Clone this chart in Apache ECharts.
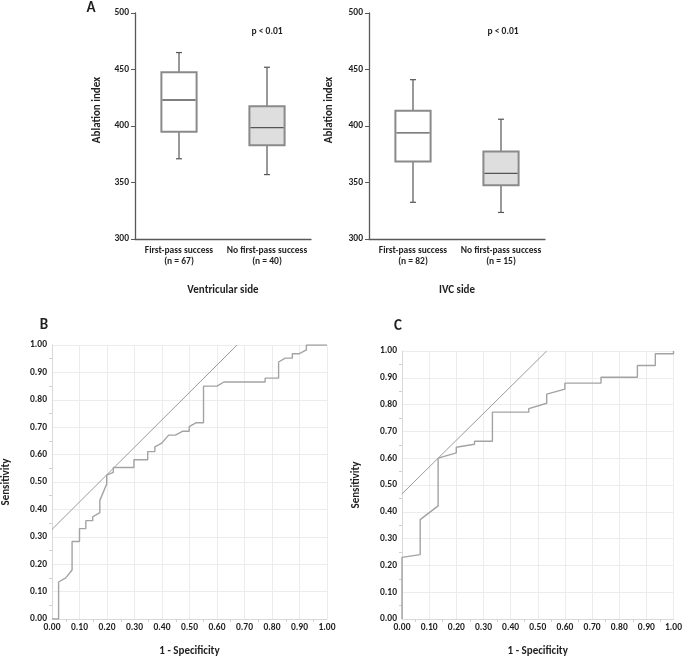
<!DOCTYPE html>
<html>
<head>
<meta charset="utf-8">
<script src="https://cdn.jsdelivr.net/npm/echarts@6/dist/echarts.min.js"></script>
<style>
html,body{margin:0;padding:0;background:#fff;}
#chart{width:685px;height:658px;}
</style>
</head>
<body>
<div id="chart"></div>
<script>
// ---- Data ----
const ventricularCategories = ['First-pass success\n(n = 67)', 'No first-pass success\n(n = 40)'];
const ivcCategories = ['First-pass success\n(n = 82)', 'No first-pass success\n(n = 15)'];
// [min, Q1, median, Q3, max]
const ventricularStats = [[371, 395, 423, 447.5, 465], [357, 383, 398.5, 417.5, 452]];
const ivcStats = [[332.5, 368.5, 394, 413.5, 441], [323.5, 347.5, 358, 377.5, 406]];
const boxYTicks = {min: 300, max: 500, interval: 50};

const rocB = [[0,0],[0.024,0],[0.024,0.135],[0.05,0.15],[0.073,0.179],[0.073,0.283],[0.1,0.283],[0.1,0.33],
  [0.123,0.33],[0.123,0.359],[0.148,0.359],[0.148,0.373],[0.174,0.388],[0.174,0.433],[0.199,0.493],[0.199,0.525],
  [0.223,0.535],[0.223,0.553],[0.298,0.553],[0.298,0.581],[0.348,0.581],[0.348,0.611],[0.374,0.611],[0.374,0.628],
  [0.399,0.642],[0.424,0.671],[0.449,0.671],[0.474,0.685],[0.499,0.685],[0.499,0.702],[0.523,0.716],[0.551,0.716],
  [0.551,0.85],[0.6,0.85],[0.625,0.865],[0.775,0.865],[0.775,0.879],[0.824,0.879],[0.824,0.938],[0.848,0.952],
  [0.874,0.952],[0.874,0.968],[0.898,0.968],[0.925,0.982],[0.925,1.0],[1,1]];
const rocBTangent = [[0, 0.327], [0.673, 1]];

const rocC = [[0,0],[0,0.23],[0.067,0.24],[0.067,0.371],[0.133,0.422],[0.133,0.6],[0.2,0.62],[0.2,0.641],
  [0.267,0.652],[0.267,0.663],[0.333,0.663],[0.333,0.772],[0.467,0.772],[0.467,0.785],[0.533,0.805],[0.533,0.839],
  [0.6,0.858],[0.6,0.88],[0.733,0.88],[0.733,0.902],[0.867,0.902],[0.867,0.946],[0.933,0.946],[0.933,0.99],
  [1,0.99],[1,1]];
const rocCTangent = [[0, 0.467], [0.533, 1]];

// ---- Helpers ----
const FONT = 'Carlito, Lato, sans-serif';
const FW = 900;
const TXT = '#1f1f1f';
const boxFills = ['#ffffff', '#dedede'];

function boxData(stats) {
  return stats.map((s, i) => [i].concat(s));
}

function renderBox(params, api) {
  const c = api.value(0);
  const pMin = api.coord([c, api.value(1)]);
  const pQ1 = api.coord([c, api.value(2)]);
  const pMed = api.coord([c, api.value(3)]);
  const pQ3 = api.coord([c, api.value(4)]);
  const pMax = api.coord([c, api.value(5)]);
  const band = api.size([1, 0])[0];
  const bw = band * 0.4;
  const cap = 3;
  const x = pMed[0];
  const wStyle = {stroke: '#555555', lineWidth: 1.2};
  return {
    type: 'group',
    children: [
      {type: 'line', shape: {x1: x, y1: pMax[1], x2: x, y2: pQ3[1]}, style: wStyle},
      {type: 'line', shape: {x1: x, y1: pMin[1], x2: x, y2: pQ1[1]}, style: wStyle},
      {type: 'line', shape: {x1: x - cap, y1: pMax[1], x2: x + cap, y2: pMax[1]}, style: wStyle},
      {type: 'line', shape: {x1: x - cap, y1: pMin[1], x2: x + cap, y2: pMin[1]}, style: wStyle},
      {type: 'rect', shape: {x: x - bw / 2, y: pQ3[1], width: bw, height: pQ1[1] - pQ3[1]},
        style: {fill: boxFills[params.dataIndex], stroke: '#8a8a8a', lineWidth: 2}},
      {type: 'line', shape: {x1: x - bw / 2 + 1, y1: pMed[1], x2: x + bw / 2 - 1, y2: pMed[1]},
        style: {stroke: '#555555', lineWidth: 1.3}}
    ]
  };
}

function boxXAxis(idx, cats, name) {
  return {
    type: 'category', gridIndex: idx, data: cats,
    axisLine: {lineStyle: {color: '#595959', width: 1.3}},
    axisTick: {show: false},
    axisLabel: {color: TXT, fontFamily: FONT, fontWeight: FW, fontSize: 9.5, lineHeight: 11, margin: 6, interval: 0},
    name: name, nameLocation: 'middle', nameGap: 46,
    nameTextStyle: {color: TXT, fontFamily: FONT, fontWeight: FW, fontSize: 11}
  };
}
function boxYAxis(idx) {
  return {
    type: 'value', gridIndex: idx, min: boxYTicks.min, max: boxYTicks.max, interval: boxYTicks.interval,
    axisLine: {show: true, lineStyle: {color: '#595959', width: 1.3}},
    axisTick: {show: true, length: 4, lineStyle: {color: '#595959'}},
    splitLine: {show: false},
    axisLabel: {color: TXT, fontFamily: FONT, fontWeight: FW, fontSize: 9.5, margin: 6}
  };
}
function rocXAxis(idx) {
  return {
    type: 'value', gridIndex: idx, min: 0, max: 1, interval: 0.1,
    axisLine: {show: true, lineStyle: {color: '#d9d9d9'}},
    axisTick: {show: false},
    minorTick: {show: true, splitNumber: 2, length: 3, lineStyle: {color: '#d0d0d0'}},
    splitLine: {show: true, lineStyle: {color: '#ececec'}},
    axisLabel: {color: TXT, fontFamily: FONT, fontWeight: FW, fontSize: 9.5, margin: 4,
      formatter: v => v.toFixed(2)},
    name: '1 - Specificity', nameLocation: 'middle', nameGap: 27,
    nameTextStyle: {color: TXT, fontFamily: FONT, fontWeight: FW, fontSize: 11}
  };
}
function rocYAxis(idx, gap) {
  return {
    type: 'value', gridIndex: idx, min: 0, max: 1, interval: 0.1,
    axisLine: {show: true, lineStyle: {color: '#d9d9d9'}},
    axisTick: {show: false},
    minorTick: {show: true, splitNumber: 2, length: 3, lineStyle: {color: '#d0d0d0'}},
    splitLine: {show: true, lineStyle: {color: '#ececec'}},
    axisLabel: {color: TXT, fontFamily: FONT, fontWeight: FW, fontSize: 9.5, margin: 5,
      formatter: v => v.toFixed(2)},
    name: 'Sensitivity', nameLocation: 'middle', nameGap: gap,
    nameTextStyle: {color: TXT, fontFamily: FONT, fontWeight: FW, fontSize: 11}
  };
}

function txt(x, y, text, size, extra) {
  return Object.assign({
    type: 'text', x: x, y: y,
    style: {text: text, fill: TXT, fontFamily: FONT, fontWeight: FW, fontSize: size,
      align: 'center', verticalAlign: 'middle'}
  }, extra || {});
}

const chart = echarts.init(document.getElementById('chart'), null, {renderer: 'canvas'});
chart.setOption({
  backgroundColor: '#ffffff',
  animation: false,
  grid: [
    {left: 135, top: 13, width: 176, height: 226},
    {left: 369, top: 13, width: 176, height: 226},
    {left: 48, top: 345, width: 279, height: 279},
    {left: 402, top: 351, width: 274, height: 273}
  ],
  xAxis: [
    boxXAxis(0, ventricularCategories, 'Ventricular side'),
    boxXAxis(1, ivcCategories, 'IVC side'),
    rocXAxis(2),
    rocXAxis(3)
  ],
  yAxis: [boxYAxis(0), boxYAxis(1), rocYAxis(2, 40), rocYAxis(3, 40)],
  series: [
    {type: 'custom', xAxisIndex: 0, yAxisIndex: 0, renderItem: renderBox, data: boxData(ventricularStats),
      encode: {x: 0, y: [1, 2, 3, 4, 5]}},
    {type: 'custom', xAxisIndex: 1, yAxisIndex: 1, renderItem: renderBox, data: boxData(ivcStats),
      encode: {x: 0, y: [1, 2, 3, 4, 5]}},
    {type: 'line', xAxisIndex: 2, yAxisIndex: 2, data: rocBTangent, symbol: 'none',
      lineStyle: {color: '#8f8f8f', width: 0.9}},
    {type: 'line', xAxisIndex: 2, yAxisIndex: 2, data: rocB, symbol: 'none',
      lineStyle: {color: '#a3a3a3', width: 1.4}},
    {type: 'line', xAxisIndex: 3, yAxisIndex: 3, data: rocCTangent, symbol: 'none',
      lineStyle: {color: '#8f8f8f', width: 0.9}},
    {type: 'line', xAxisIndex: 3, yAxisIndex: 3, data: rocC, symbol: 'none',
      lineStyle: {color: '#a3a3a3', width: 1.4}}
  ],
  graphic: [
    txt(91, 8, 'A', 15),
    txt(44, 325, 'B', 15),
    txt(398, 326, 'C', 15),
    txt(267, 32, 'p < 0.01', 9.5),
    txt(503, 32, 'p < 0.01', 9.5),
    txt(97, 110, 'Ablation index', 11, {rotation: Math.PI / 2}),
    txt(329, 110, 'Ablation index', 11, {rotation: Math.PI / 2})
  ]
});
</script>
</body>
</html>
